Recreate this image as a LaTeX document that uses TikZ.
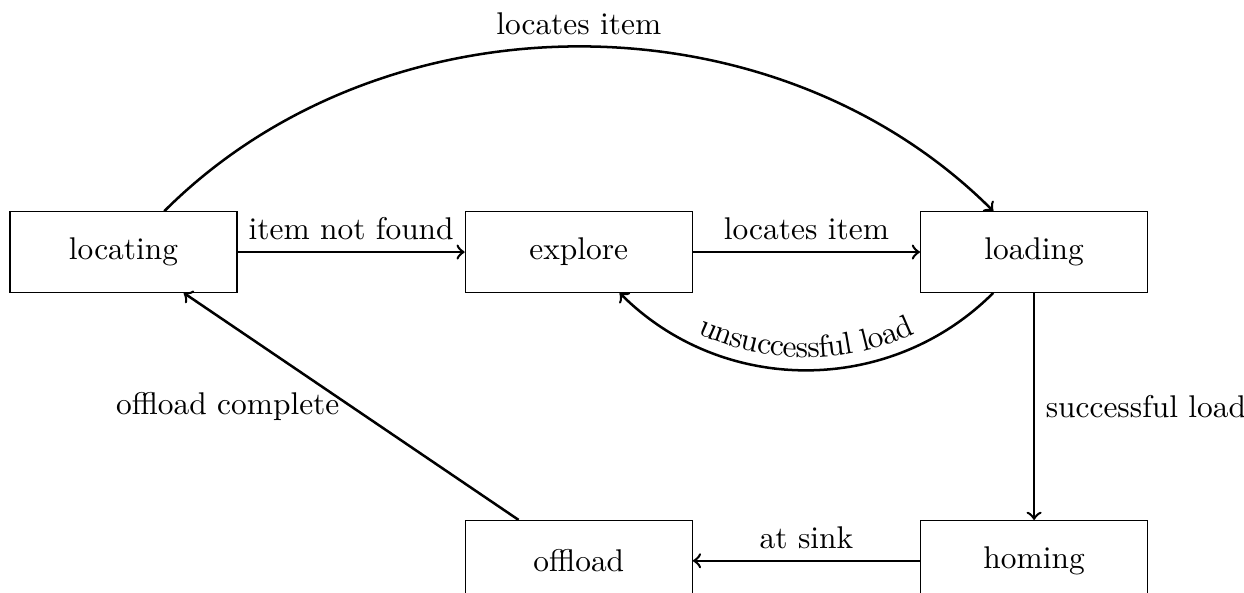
\documentclass[tikz,border=0pt]{standalone}
\usetikzlibrary{positioning,decorations.text}
\begin{document}
\begin{tikzpicture}[
  state/.style={draw, rectangle, minimum width=2.54cm, minimum height=0.9cm, inner sep=2pt},
  trans/.style={->, thick},
  node distance=2.54cm
]
% page frame
\useasboundingbox (-1.382,2.820) rectangle (12.537,-3.804);

% states
\node[state] (locating) at (0,0) {locating};
\node[state, right=of locating] (explore) {explore};
\node[state, right=of explore] (loading) {loading};
\node[state, below=of loading] (homing) {homing};
\node[state, left=of homing] (offload) {offload};

% transitions
\draw[trans] (locating) -- node[above] {item not found} (explore);
\draw[trans] (explore) -- node[above] {locates item} (loading);
\draw[trans] (locating) to[bend left=45, looseness=0.96] node[above] {locates item} (loading);
\draw[trans, postaction={decorate},
  decoration={text along path, text={unsuccessful load}, text align=center, raise=4pt, reverse path}]
  (loading) to[bend left=45] (explore);
\draw[trans] (loading) -- node[right] {successful load} (homing);
\draw[trans] (homing) -- node[above] {at sink} (offload);
\draw[trans] (offload) -- node[left] {offload complete} (locating);
\end{tikzpicture}
\end{document}
